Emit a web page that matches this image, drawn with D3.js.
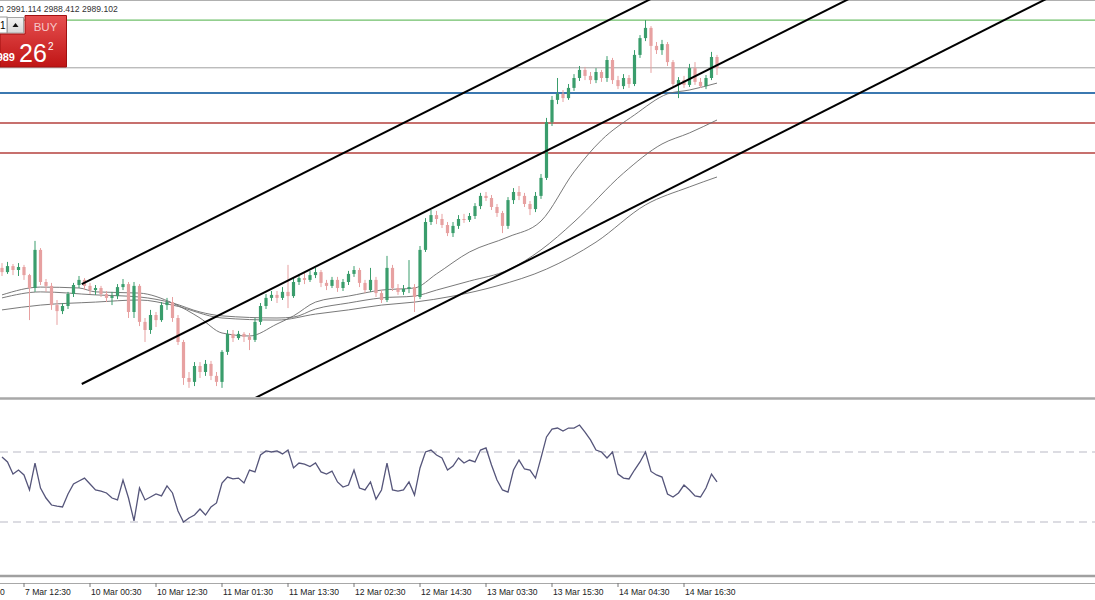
<!DOCTYPE html>
<html><head><meta charset="utf-8">
<script src="https://cdn.jsdelivr.net/npm/d3@7"></script>
<style>
html,body{margin:0;padding:0;background:#fff;overflow:hidden;}
svg{display:block;font-family:"Liberation Sans",Arial,sans-serif;}
</style></head><body>
<svg id="c" width="1095" height="600"></svg>
<script>
// ---- Candles (XAUUSD, one bar per index) ----
const openP = [2922.4,2921.0,2923.0,2921.7,2922.7,2920.0,2915.7,2928.4,2917.7,2916.4,
2910.0,2908.0,2909.7,2913.7,2916.7,2918.4,2916.4,2915.0,2915.7,2913.7,
2912.4,2913.0,2916.0,2917.0,2907.7,2916.4,2904.4,2901.7,2906.7,2905.0,
2910.0,2911.0,2905.7,2897.7,2885.7,2884.4,2889.7,2887.7,2890.4,2886.4,
2884.4,2894.4,2900.4,2899.0,2900.4,2899.4,2898.4,2904.4,2909.7,2912.4,
2913.4,2912.4,2914.4,2913.0,2917.7,2919.0,2918.4,2920.0,2921.0,2917.4,
2916.4,2918.4,2915.7,2917.7,2920.4,2921.7,2917.4,2915.0,2918.4,2914.0,
2911.7,2922.4,2915.7,2914.4,2915.4,2916.0,2912.7,2928.4,2937.7,2940.0,
2938.7,2936.7,2934.0,2936.4,2938.7,2938.4,2939.7,2943.0,2946.4,2945.7,
2942.7,2940.7,2936.4,2945.0,2947.7,2946.4,2943.7,2942.0,2946.4,2952.4,
2971.0,2978.4,2980.4,2979.0,2982.4,2985.7,2988.4,2986.4,2985.0,2987.7,
2985.7,2991.7,2985.0,2983.0,2985.7,2983.7,2993.4,2999.0,3002.4,2996.4,
2995.0,2997.0,2991.0,2983.7,2985.0,2983.4,2989.0,2984.4,2983.0,2985.7,
2992.7];
const highP = [2924.0,2924.4,2923.7,2924.0,2923.4,2920.4,2931.4,2929.0,2918.7,2917.4,
2911.7,2910.7,2914.4,2917.4,2919.7,2919.0,2917.4,2916.7,2916.4,2914.7,
2914.4,2917.0,2918.7,2917.7,2917.7,2917.0,2905.7,2908.4,2907.7,2911.0,
2912.4,2912.7,2906.7,2898.4,2887.7,2891.0,2891.0,2891.7,2891.4,2887.7,
2895.0,2901.7,2901.7,2901.4,2901.0,2900.7,2905.7,2910.7,2913.7,2914.7,
2914.7,2916.0,2923.4,2919.0,2920.4,2920.7,2921.4,2922.4,2921.7,2918.4,
2919.4,2919.4,2918.7,2921.4,2923.0,2922.4,2918.4,2922.4,2919.4,2915.0,
2926.4,2923.4,2917.0,2916.7,2925.0,2917.0,2929.7,2939.0,2941.7,2941.4,
2940.4,2937.7,2937.7,2940.0,2940.4,2940.7,2944.0,2947.4,2947.7,2946.7,
2943.7,2941.4,2946.0,2949.0,2949.7,2947.4,2944.7,2947.7,2953.7,2972.4,
2979.7,2985.7,2981.7,2983.7,2987.0,2989.7,2989.4,2987.7,2989.0,2988.4,
2993.0,2992.4,2986.4,2987.0,2986.7,2995.0,3000.0,3005.0,3003.0,2997.7,
2998.4,2997.7,2991.7,2986.0,2986.4,2990.4,2991.0,2985.7,2986.7,2994.4,
2993.4];
const lowP = [2919.7,2920.4,2920.0,2919.7,2918.4,2905.0,2914.4,2916.7,2914.4,2908.4,
2903.4,2907.0,2908.7,2912.7,2915.7,2915.0,2913.7,2913.4,2912.7,2911.0,
2910.0,2912.0,2915.0,2905.7,2905.7,2903.0,2897.7,2900.4,2902.7,2904.4,
2908.4,2904.4,2896.7,2883.4,2882.4,2883.0,2885.7,2886.4,2885.0,2883.0,
2882.4,2893.4,2897.7,2898.4,2897.7,2895.0,2897.7,2903.4,2908.7,2911.4,
2910.7,2911.7,2909.0,2912.4,2916.7,2917.0,2917.7,2919.0,2916.0,2915.0,
2915.7,2914.4,2914.7,2916.7,2919.4,2916.0,2914.0,2914.4,2912.7,2910.7,
2911.0,2914.7,2913.4,2913.4,2914.0,2907.7,2912.0,2927.7,2936.7,2937.0,
2935.7,2933.0,2932.7,2935.4,2937.4,2937.7,2938.7,2942.0,2944.7,2941.7,
2939.4,2934.0,2935.4,2943.7,2945.0,2942.7,2940.0,2941.0,2945.4,2951.7,
2969.7,2977.0,2977.7,2978.4,2981.4,2984.7,2985.0,2983.7,2984.0,2984.4,
2984.4,2983.7,2982.0,2982.0,2982.4,2983.0,2992.4,2998.0,2987.4,2993.7,
2993.4,2989.7,2982.4,2979.0,2982.4,2982.7,2983.4,2982.4,2982.0,2985.0,
2986.7];
const closeP = [2921.0,2923.0,2921.7,2922.7,2920.0,2915.7,2928.4,2917.7,2916.4,2910.0,
2908.0,2909.7,2913.7,2916.7,2918.4,2916.4,2915.0,2915.7,2913.7,2912.4,
2913.0,2916.0,2917.0,2907.7,2916.4,2904.4,2901.7,2906.7,2905.0,2910.0,
2911.0,2905.7,2897.7,2885.7,2884.4,2889.7,2887.7,2890.4,2886.4,2884.4,
2894.4,2900.4,2899.0,2900.4,2899.4,2898.4,2904.4,2909.7,2912.4,2913.4,
2912.4,2914.4,2913.0,2917.7,2919.0,2918.4,2920.0,2921.0,2917.4,2916.4,
2918.4,2915.7,2917.7,2920.4,2921.7,2917.4,2915.0,2918.4,2914.0,2911.7,
2922.4,2915.7,2914.4,2915.4,2916.0,2912.7,2928.4,2937.7,2940.0,2938.7,
2936.7,2934.0,2936.4,2938.7,2938.4,2939.7,2943.0,2946.4,2945.7,2942.7,
2940.7,2936.4,2945.0,2947.7,2946.4,2943.7,2942.0,2946.4,2952.4,2971.0,
2978.4,2980.4,2979.0,2982.4,2985.7,2988.4,2986.4,2985.0,2987.7,2985.7,
2991.7,2985.0,2983.0,2985.7,2983.7,2993.4,2999.0,3002.4,2996.4,2995.0,
2997.0,2991.0,2983.7,2985.0,2983.4,2989.0,2984.4,2983.0,2985.7,2992.7,
2989.1];

// ---- Moving averages (bar index, price) ----
const maFastIdx = [0,7,14,17,25,31,36,40,45,50,53,57,63,69,75,79,85,92,98,104,109,115,121,125,130];
const maFastVal = [2913.4,2916.0,2915.7,2914.4,2914.0,2910.7,2905.7,2900.7,2899.7,2903.7,2906.4,2911.0,2913.0,2915.0,2915.7,2920.4,2927.7,2932.7,2938.0,2954.4,2965.0,2973.4,2980.4,2981.7,2984.0];
const maMidIdx = [0,7,17,25,31,36,40,50,53,57,63,69,75,79,85,92,98,104,113,120,125,130];
const maMidVal = [2912.4,2914.4,2913.4,2912.7,2910.7,2907.7,2906.4,2905.7,2906.0,2908.7,2910.7,2912.4,2913.0,2915.0,2918.0,2921.7,2928.4,2937.7,2954.0,2963.7,2967.4,2971.7];
const maSlowIdx = [0,7,17,25,31,40,50,57,63,69,75,82,90,99,108,117,125,130];
const maSlowVal = [2908.4,2910.0,2911.0,2911.7,2910.0,2905.7,2905.0,2907.0,2908.4,2910.0,2911.0,2913.0,2916.4,2922.0,2931.0,2943.4,2949.4,2952.7];

// ---- RSI values per bar ----
const rsiValues = [67.1,64.3,57.4,59.7,56.9,48.3,63.7,49.4,43.7,39.7,
39.1,38.6,46.0,51.7,53.4,55.1,51.7,48.3,47.7,46.6,
43.7,42.6,54.0,43.7,30.6,49.4,42.6,44.3,46.0,44.9,
50.6,46.6,36.3,30.0,32.3,34.0,37.4,34.0,38.6,40.9,
52.3,55.7,54.6,55.1,52.3,59.7,58.6,68.3,70.6,70.0,
70.6,68.9,71.1,60.9,63.7,63.1,61.7,63.7,58.6,57.4,
59.1,52.9,50.0,51.1,59.7,49.4,48.3,52.9,43.1,48.3,
63.7,48.3,47.7,48.3,52.9,45.4,60.9,70.0,71.1,68.3,
66.6,59.7,62.0,66.6,63.7,65.4,64.3,71.1,72.3,62.6,
54.0,48.3,47.1,59.7,65.4,60.3,59.7,55.1,66.6,78.6,
83.1,83.7,82.0,83.7,83.7,85.4,81.4,76.9,71.1,70.0,
66.6,70.0,57.4,55.1,54.6,59.7,64.3,70.0,58.9,56.9,
55.7,46.0,44.3,46.6,51.1,48.3,44.9,44.3,49.4,57.4,
52.9];
const rsiLevels = [70, 30];

// ---- Horizontal price levels ----
const levelValues = [3005.0, 2989.1, 2980.7, 2970.7, 2960.7];
const levelColors = ["#6fbf6a", "#a0a0a0", "#3b78b0", "#b5403c", "#b5403c"];
const levelWidths = [1.2, 1, 2, 1.4, 1.4];

// ---- Trend channel (bar index, price) ----
const chStartIdx = [14.5, 14.5, 46];
const chStartPrice = [2917.0, 2883.7, 2879.0];
const chEndIdx = [119.0, 155.0, 190.9];
const chEndPrice = [3013.0, 3013.0, 3013.0];

// ---- Time axis ----
const tickIdx = [-8,4,16,28,40,52,64,76,88,100,112,124];
const tickLabels = ["7 Mar 00:30","7 Mar 12:30","10 Mar 00:30","10 Mar 12:30","11 Mar 01:30","11 Mar 13:30","12 Mar 02:30","12 Mar 14:30","13 Mar 03:30","13 Mar 15:30","14 Mar 04:30","14 Mar 16:30"];

// ---- Header / trade panel texts ----
const headerText = "0 2991.114 2988.412 2989.102";
const buyLabel = "BUY", priceBig = "26", priceSup = "2", pricePrefix = "2989", lotText = "1";

const W = 1095, H = 600;
const svg = d3.select("#c");
const x = d3.scaleLinear().domain([0, 130]).range([2, 717]);
const y = d3.scaleLinear().domain([2879.03, 3011.7]).range([398, 0]);
const yr = d3.scaleLinear().domain([0, 100]).range([574.5, 399.5]);

svg.append("rect").attr("width", W).attr("height", H).attr("fill", "#fff");

const defs = svg.append("defs");
defs.append("clipPath").attr("id", "mainClip").append("rect").attr("x", 0).attr("y", 0).attr("width", W).attr("height", 397);
const g1 = defs.append("linearGradient").attr("id", "redG").attr("x1", 0).attr("y1", 0).attr("x2", 0).attr("y2", 1);
g1.append("stop").attr("offset", "0%").attr("stop-color", "#e65050");
g1.append("stop").attr("offset", "100%").attr("stop-color", "#c01515");
const g2 = defs.append("linearGradient").attr("id", "btnG").attr("x1", 0).attr("y1", 0).attr("x2", 0).attr("y2", 1);
g2.append("stop").attr("offset", "0%").attr("stop-color", "#f4f4f4");
g2.append("stop").attr("offset", "100%").attr("stop-color", "#d8d8d8");

// frame lines
svg.append("line").attr("x1", 0).attr("x2", W).attr("y1", 0.5).attr("y2", 0.5).attr("stroke", "#b0b0b0");

const main = svg.append("g").attr("clip-path", "url(#mainClip)");

// levels
main.selectAll("line.level").data(levelValues).join("line")
  .attr("x1", 0).attr("x2", W)
  .attr("y1", d => y(d)).attr("y2", d => y(d))
  .attr("stroke", (d, i) => levelColors[i]).attr("stroke-width", (d, i) => levelWidths[i]);

// moving averages
const maLine = d3.line().x(d => x(d[0])).y(d => y(d[1])).curve(d3.curveMonotoneX);
[[maSlowIdx, maSlowVal], [maMidIdx, maMidVal], [maFastIdx, maFastVal]].forEach(([ix, v]) => {
  main.append("path").datum(ix.map((d, i) => [d, v[i]])).attr("d", maLine)
    .attr("fill", "none").attr("stroke", "#6a6a6a").attr("stroke-width", 0.9);
});

// candles
const bull = "#3a9d6c", bear = "#e7a1a1";
const cg = main.append("g");
openP.forEach((o, i) => {
  const c = closeP[i], up = c >= o, col = up ? bull : bear;
  cg.append("line").attr("x1", x(i)).attr("x2", x(i)).attr("y1", y(highP[i])).attr("y2", y(lowP[i]))
    .attr("stroke", col).attr("stroke-width", 1);
  const top = y(Math.max(o, c)), bot = y(Math.min(o, c));
  cg.append("rect").attr("x", x(i) - 1.6).attr("width", 3.2)
    .attr("y", top).attr("height", Math.max(1, bot - top)).attr("fill", col);
});

// channel lines
main.selectAll("line.ch").data(chStartIdx).join("line")
  .attr("x1", (d) => x(d)).attr("y1", (d, i) => y(chStartPrice[i]))
  .attr("x2", (d, i) => x(chEndIdx[i])).attr("y2", (d, i) => y(chEndPrice[i]))
  .attr("stroke", "#000").attr("stroke-width", 2);

// separators
svg.append("line").attr("x1", 0).attr("x2", W).attr("y1", 398.5).attr("y2", 398.5).attr("stroke", "#a8a8a8").attr("stroke-width", 2.5);
svg.append("line").attr("x1", 0).attr("x2", W).attr("y1", 576).attr("y2", 576).attr("stroke", "#a0a0a0").attr("stroke-width", 2.5);
svg.append("line").attr("x1", 0).attr("x2", W).attr("y1", 583.5).attr("y2", 583.5).attr("stroke", "#a8a8a8").attr("stroke-width", 1);

// RSI
svg.selectAll("line.rl").data(rsiLevels).join("line")
  .attr("x1", 0).attr("x2", W).attr("y1", d => yr(d)).attr("y2", d => yr(d))
  .attr("stroke", "#b9b9c6").attr("stroke-width", 1.1).attr("stroke-dasharray", "8,5");
svg.append("path").datum(rsiValues)
  .attr("d", d3.line().x((d, i) => x(i)).y(d => yr(d)))
  .attr("fill", "none").attr("stroke", "#55557a").attr("stroke-width", 1.3);

// time axis
const ax = svg.append("g");
tickIdx.forEach((t, k) => {
  ax.append("line").attr("x1", x(t)).attr("x2", x(t)).attr("y1", 583).attr("y2", 587).attr("stroke", "#777");
  ax.append("text").attr("x", x(t) + 1).attr("y", 595).attr("font-size", 8.6).attr("fill", "#222").text(tickLabels[k]);
});

// header
svg.append("text").attr("x", -1).attr("y", 11.5).attr("font-size", 8.6).attr("fill", "#333").text(headerText);

// trade panel
const p = svg.append("g");
p.append("rect").attr("x", -6).attr("y", 17).attr("width", 13).attr("height", 16).attr("fill", "#fff").attr("stroke", "#9a9a9a");
p.append("text").attr("x", 0).attr("y", 29).attr("font-size", 10).attr("fill", "#000").text(lotText);
p.append("rect").attr("x", 7.5).attr("y", 17.5).attr("width", 16).attr("height", 15.5).attr("fill", "url(#btnG)").attr("stroke", "#a5a5a5");
p.append("path").attr("d", "M12.5,27 L15.5,23 L18.5,27 Z").attr("fill", "#111");
p.append("path").attr("d", "M25,15.5 H66.5 V67 H0 V34 H25 Z").attr("fill", "url(#redG)").attr("stroke", "#a01010").attr("stroke-width", 1);
p.append("text").attr("x", 45.5).attr("y", 31).attr("text-anchor", "middle").attr("font-size", 11.5).attr("fill", "#f6c8c8").text(buyLabel);
p.append("text").attr("x", 15).attr("y", 61).attr("text-anchor", "end").attr("font-size", 11).attr("font-weight", "bold").attr("fill", "#fff").text(pricePrefix);
p.append("text").attr("x", 19).attr("y", 62).attr("font-size", 25).attr("fill", "#fff").text(priceBig);
p.append("text").attr("x", 48).attr("y", 50).attr("font-size", 10).attr("fill", "#fff").text(priceSup);
</script>
</body></html>
